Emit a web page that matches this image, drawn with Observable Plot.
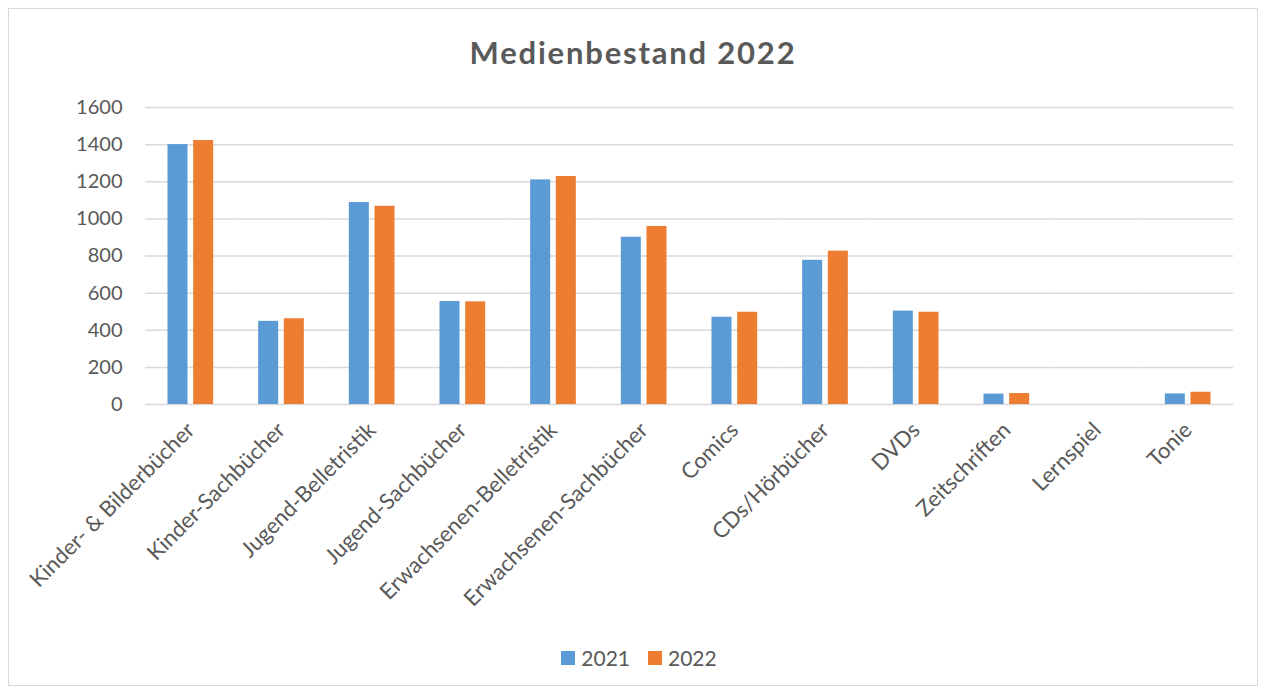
<!DOCTYPE html>
<html>
<head>
<meta charset="utf-8">
<script src="https://cdn.jsdelivr.net/npm/d3@7"></script>
<script src="https://cdn.jsdelivr.net/npm/@observablehq/plot@0.6"></script>
<style>
  html, body { margin: 0; padding: 0; background: #fff; }
  #frame {
    position: absolute; left: 8px; top: 8px; width: 1250px; height: 678px;
    border: 1px solid #d9d9d9; box-sizing: border-box; background: #fff;
    font-family: Lato, "Open Sans", sans-serif; color: #595959;
  }
  #title { height: 82px; line-height: 86px; text-align: center; font-size: 31px; font-weight: bold; letter-spacing: 1.8px; }
  #legend { display: flex; justify-content: center; align-items: center; gap: 18px; font-size: 21px; margin-top: 14px; padding-left: 12px; }
  .item { display: flex; align-items: center; gap: 6px; }
  .sw { width: 14px; height: 14px; display: inline-block; }
</style>
</head>
<body>
<div id="frame">
  <div id="title">Medienbestand 2022</div>
  <div id="chart"></div>
  <div id="legend"></div>
</div>
<script>
const categories = ["Kinder- & Bilderbücher", "Kinder-Sachbücher", "Jugend-Belletristik", "Jugend-Sachbücher", "Erwachsenen-Belletristik", "Erwachsenen-Sachbücher", "Comics", "CDs/Hörbücher", "DVDs", "Zeitschriften", "Lernspiel", "Tonie"];
const years = ["2021", "2022"];
const values2021 = [1400, 448, 1088, 555, 1210, 901, 470, 777, 503, 56, 0, 57];
const values2022 = [1422, 462, 1068, 553, 1228, 959, 497, 826, 497, 59, 0, 66];
const yTicks = [0, 200, 400, 600, 800, 1000, 1200, 1400, 1600];
const colors = ["#5b9bd5", "#ed7d31"];

const data = categories.flatMap((c, i) => [
  {cat: c, year: years[0], value: values2021[i]},
  {cat: c, year: years[1], value: values2022[i]}
]);

const chart = Plot.plot({
  width: 1248,
  height: 540,
  marginLeft: 136,
  marginRight: 24,
  marginTop: 16,
  marginBottom: 227,
  style: {fontSize: "20px", fontFamily: "Lato, 'Open Sans', sans-serif", color: "#595959", background: "transparent"},
  fx: {domain: categories, padding: 0, round: false, label: null, tickRotate: -45, tickSize: 0, tickPadding: 22},
  x: {domain: years, paddingInner: 0.22, paddingOuter: 0.876, round: false, axis: null},
  y: {domain: [0, 1600], ticks: yTicks, tickFormat: d => String(d), tickSize: 0, tickPadding: 23, label: null},
  color: {domain: years, range: colors},
  marks: [
    Plot.ruleY(yTicks, {stroke: "#d9d9d9", strokeWidth: 1.5}),
    Plot.barY(data, {fx: "cat", x: "year", y: "value", fill: "year"})
  ]
});
document.getElementById("chart").appendChild(chart);
d3.select(chart).selectAll("g[aria-label^='fx-axis']").attr("font-size", "22px").style("font-size", "22px");

const legend = document.getElementById("legend");
years.forEach((y, i) => {
  const it = document.createElement("div");
  it.className = "item";
  it.innerHTML = `<span class="sw" style="background:${colors[i]}"></span><span>${y}</span>`;
  legend.appendChild(it);
});
</script>
</body>
</html>
